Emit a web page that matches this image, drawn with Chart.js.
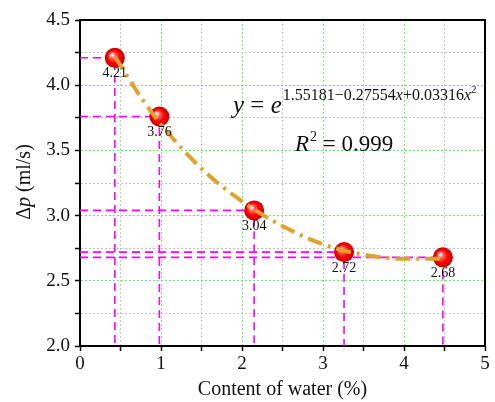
<!DOCTYPE html>
<html>
<head>
<meta charset="utf-8">
<script src="https://cdn.jsdelivr.net/npm/chart.js@4.4.1/dist/chart.umd.min.js"></script>
<style>
html,body{margin:0;padding:0;background:#fff;}
#wrap{width:495px;height:402px;}
</style>
</head>
<body>
<div id="wrap"><canvas id="c" width="495" height="402"></canvas></div>
<script>
// Measured points
const waterContent = [0.43, 0.98, 2.15, 3.26, 4.48];
const deltaP = [4.21, 3.76, 3.04, 2.72, 2.68];
const pointLabels = ['4.21', '3.76', '3.04', '2.72', '2.68'];
// Fitted curve
const fitX = [0.43, 0.75, 1.0, 1.5, 2.0, 2.5, 3.0, 3.5, 4.0, 4.48];
const fitY = [4.22, 3.91, 3.70, 3.36, 3.11, 2.92, 2.78, 2.70, 2.67, 2.67];
// Axis tick values
const xTicks = [0, 1, 2, 3, 4, 5];
const yTicks = [2.0, 2.5, 3.0, 3.5, 4.0, 4.5];

const SERIF = "'Liberation Serif','Times New Roman',serif";

const points = waterContent.map((x, i) => ({x, y: deltaP[i]}));
const fitPts = fitX.map((x, i) => ({x, y: fitY[i]}));

const dropSets = waterContent.map((x, i) => ({
  type: 'line',
  data: [{x: 0, y: deltaP[i]}, {x: x, y: deltaP[i]}, {x: x, y: 2}],
  borderColor: '#FF00FF',
  borderWidth: 1.6,
  borderDash: [8, 5],
  pointRadius: 0,
  tension: 0,
  order: 3
}));

const framePlugin = {
  id: 'frame',
  afterDraw(chart) {
    const {ctx, chartArea: a, scales} = chart;
    ctx.save();
    ctx.strokeStyle = '#000';
    ctx.lineWidth = 2;
    ctx.beginPath();
    ctx.moveTo(a.left, a.top);
    ctx.lineTo(a.right, a.top);
    ctx.lineTo(a.right, a.bottom);
    ctx.stroke();

    // point labels
    ctx.fillStyle = '#111';
    ctx.font = '14px ' + SERIF;
    ctx.textAlign = 'center';
    ctx.textBaseline = 'middle';
    waterContent.forEach((x, i) => {
      const px = scales.x.getPixelForValue(x);
      const py = scales.y.getPixelForValue(deltaP[i]);
      ctx.fillText(pointLabels[i], px, py + 16);
    });

    // equation
    ctx.textAlign = 'left';
    ctx.textBaseline = 'alphabetic';
    let cx = 233;
    const base = 113;
    const put = (t, font, dy) => {
      ctx.font = font;
      ctx.fillText(t, cx, base + (dy || 0));
      cx += ctx.measureText(t).width;
    };
    put('y', 'italic 25px ' + SERIF);
    put(' = ', '25px ' + SERIF);
    put('e', 'italic 25px ' + SERIF);
    cx += 1;
    const sup = -13;
    put('1.55181\u22120.27554', '16px ' + SERIF, sup);
    put('x', 'italic 16px ' + SERIF, sup);
    put('+0.03316', '16px ' + SERIF, sup);
    put('x', 'italic 16px ' + SERIF, sup);
    put('2', '11px ' + SERIF, sup - 7);

    cx = 295;
    const base2 = 151;
    ctx.font = 'italic 23px ' + SERIF;
    ctx.fillText('R', cx, base2); cx += ctx.measureText('R').width + 1;
    ctx.font = '14px ' + SERIF;
    ctx.fillText('2', cx, base2 - 10); cx += ctx.measureText('2').width;
    ctx.font = '23px ' + SERIF;
    ctx.fillText(' = 0.999', cx, base2);

    // y axis title (rotated, italic p)
    ctx.save();
    ctx.translate(25, 182);
    ctx.rotate(-Math.PI / 2);
    ctx.textBaseline = 'middle';
    const parts = [['\u0394', '20px ' + SERIF], ['p', 'italic 20px ' + SERIF], [' (ml/s)', '20px ' + SERIF]];
    let w = 0;
    parts.forEach(p => { ctx.font = p[1]; w += ctx.measureText(p[0]).width; });
    let sx = -w / 2;
    parts.forEach(p => { ctx.font = p[1]; ctx.fillText(p[0], sx, 0); sx += ctx.measureText(p[0]).width; });
    ctx.restore();
    ctx.restore();
  }
};

function sphere(ctx) {
  const chart = ctx.chart;
  const d = ctx.raw;
  if (!d || !chart.scales || !chart.scales.x || !chart.scales.y) return '#FF0000';
  const px = chart.scales.x.getPixelForValue(d.x);
  const py = chart.scales.y.getPixelForValue(d.y);
  if (!isFinite(px) || !isFinite(py)) return '#FF0000';
  const g = chart.ctx.createRadialGradient(px - 3, py - 3, 0.5, px, py, 10);
  g.addColorStop(0, '#FFFFFF');
  g.addColorStop(0.25, '#FF6060');
  g.addColorStop(0.6, '#FF0000');
  g.addColorStop(1, '#C00000');
  return g;
}

new Chart(document.getElementById('c'), {
  type: 'scatter',
  data: {
    datasets: [
      ...dropSets,
      {
        type: 'scatter',
        data: points,
        pointRadius: 10,
        pointHoverRadius: 10,
        pointBackgroundColor: sphere,
        pointBorderWidth: 0,
        borderColor: 'rgba(0,0,0,0)',
        order: 2
      },
      {
        type: 'line',
        data: fitPts,
        borderColor: '#DFA22A',
        borderWidth: 4,
        borderDash: [15, 6, 3, 6],
        pointRadius: 0,
        cubicInterpolationMode: 'monotone',
        fill: false,
        order: 1
      }
    ]
  },
  options: {
    responsive: false,
    animation: false,
    events: [],
    layout: {padding: {top: 20, right: 0, left: 0, bottom: 0}},
    plugins: {legend: {display: false}, tooltip: {enabled: false}},
    scales: {
      x: {
        type: 'linear', min: 0, max: 5,
        afterFit(s) { s.height = 56; },
        afterBuildTicks(s) {
          const t = [];
          for (let v = 0; v <= 10; v++) t.push({value: v * 0.5});
          s.ticks = t;
        },
        ticks: {
          autoSkip: false, maxRotation: 0, padding: 2, color: '#111',
          font: {family: SERIF, size: 19},
          callback: v => (xTicks.includes(v) ? String(v) : '')
        },
        grid: {
          color: c => (c.tick && Number.isInteger(c.tick.value) ? '#6BF06B' : '#C4C4C4'),
          lineWidth: 1, tickLength: 5, tickColor: '#000', tickWidth: 1.5
        },
        border: {display: true, color: '#000', width: 2, dash: [2, 2]},
        title: {display: true, text: 'Content of water (%)', color: '#111', font: {family: SERIF, size: 20}, padding: {top: 5, bottom: 0}}
      },
      y: {
        type: 'linear', min: 2, max: 4.5,
        afterFit(s) { s.width = 80; },
        afterBuildTicks(s) {
          const t = [];
          for (let v = 0; v <= 10; v++) t.push({value: 2 + v * 0.25});
          s.ticks = t;
        },
        ticks: {
          autoSkip: false, padding: 5, color: '#111',
          font: {family: SERIF, size: 19},
          callback: v => (yTicks.some(t => Math.abs(t - v) < 1e-9) ? v.toFixed(1) : '')
        },
        grid: {
          color: c => (c.tick && Math.abs(c.tick.value * 2 - Math.round(c.tick.value * 2)) < 1e-9 ? '#6BF06B' : '#C4C4C4'),
          lineWidth: 1, tickLength: 5, tickColor: '#000', tickWidth: 1.5
        },
        border: {display: true, color: '#000', width: 2, dash: [2, 2]},
        title: {display: false}
      }
    }
  },
  plugins: [framePlugin]
});
</script>
</body>
</html>
